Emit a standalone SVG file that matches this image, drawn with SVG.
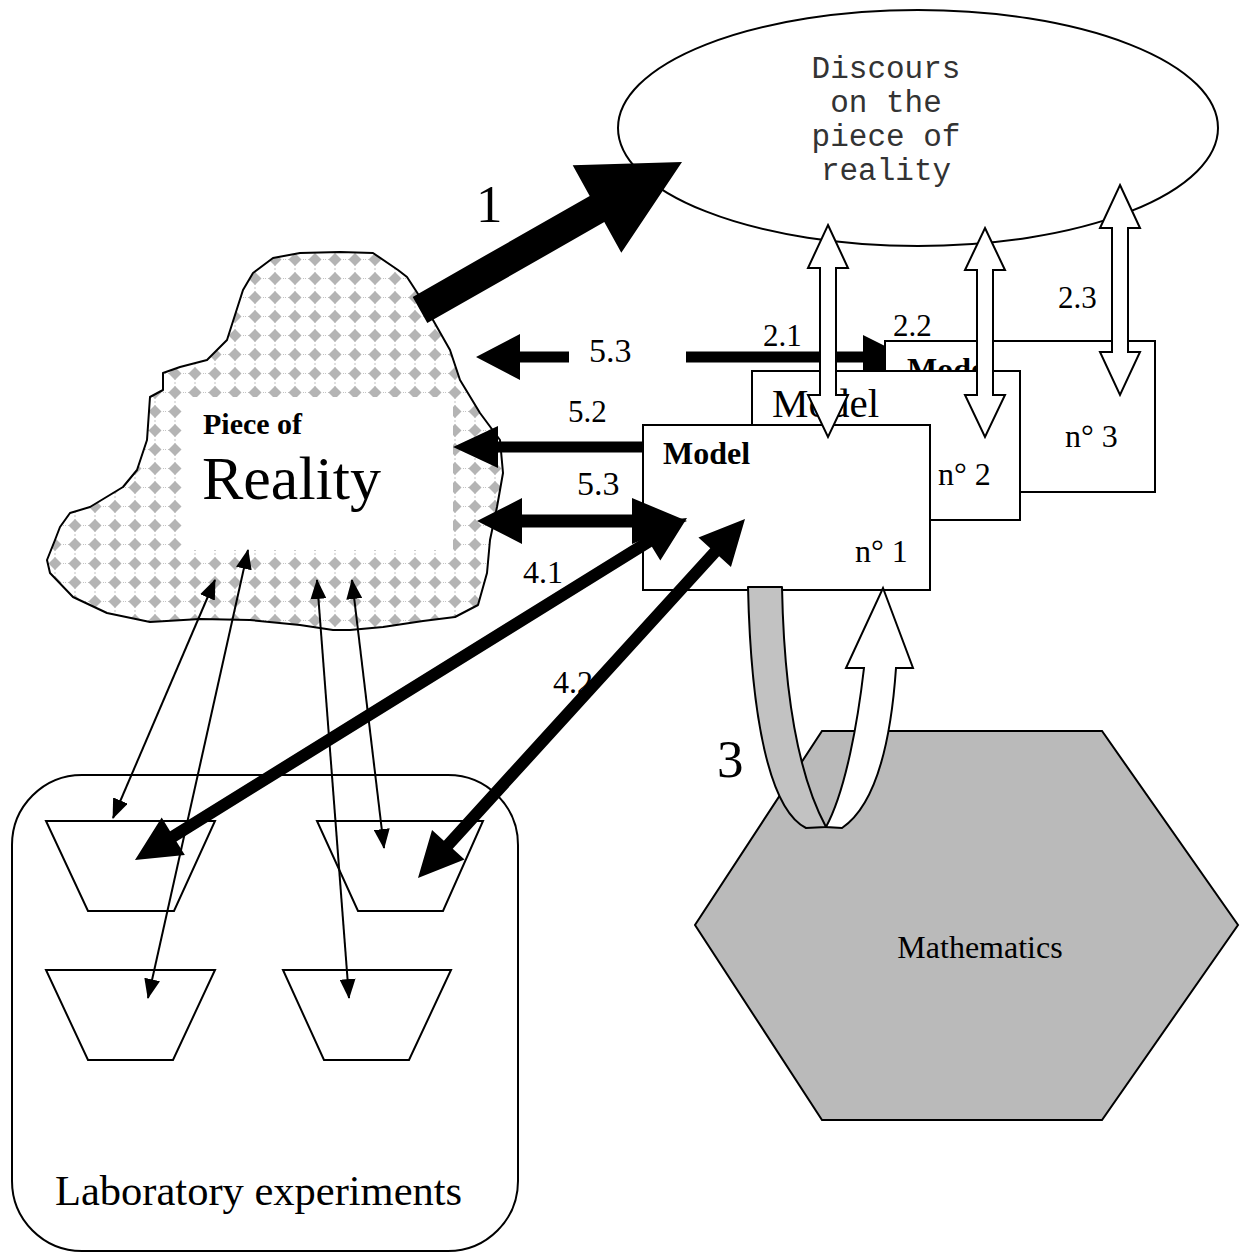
<svg xmlns="http://www.w3.org/2000/svg" width="1241" height="1254" viewBox="0 0 1241 1254">
  <style>
    .ln { fill: none; stroke: #000; stroke-width: 2; }
    .box { fill: #fff; stroke: #000; stroke-width: 2; }
    .blk { fill: #000; stroke: none; }
    .hollow { fill: #fff; stroke: #000; stroke-width: 2; stroke-linejoin: miter; }
    .thin { fill: none; stroke: #000; stroke-width: 2; marker-start: url(#tip); marker-end: url(#tip); }
    .serif { font-family: "Liberation Serif", "Times New Roman", serif; fill: #000; }
    .mono { font-family: "Liberation Mono", "Courier New", monospace; fill: #333; font-size: 31px; text-anchor: middle; }
    .bold { font-weight: bold; }
  </style>
  <defs>
    <pattern id="dots" width="20" height="19" patternUnits="userSpaceOnUse" x="5" y="3">
      <rect width="20" height="19" fill="#fff"/>
      <path d="M0,9.5H20M10,0V19" stroke="#c4c4c4" stroke-width="1" stroke-dasharray="1 2"/>
      <path d="M10,3L16.5,9.5L10,16L3.5,9.5Z" fill="#b4b4b4"/>
    </pattern>
    <marker id="tip" viewBox="0 0 20 16" refX="19" refY="8" markerWidth="20" markerHeight="16" markerUnits="userSpaceOnUse" orient="auto-start-reverse">
      <path d="M0,0 L20,8 L0,16 Z" fill="#000"/>
    </marker>
  </defs>

  <rect width="1241" height="1254" fill="#fff"/>

  <!-- discourse ellipse -->
  <g id="discours">
    <ellipse class="box" cx="918" cy="128" rx="300" ry="118"/>
    <text class="mono" x="886" y="78">Discours</text>
    <text class="mono" x="886" y="112">on the</text>
    <text class="mono" x="886" y="146">piece of</text>
    <text class="mono" x="886" y="180">reality</text>
  </g>

  <!-- piece of reality cloud -->
  <g id="reality">
    <path d="M243,290 L253,273 L273,258 L300,253 L340,252 L373,253 L398,270 L407,277 L420,297 L433,320 L450,350 L460,380 L480,413 L500,440 L503,473 L497,507 L490,540 L487,573 L478,605 L455,617 L423,621 L383,627 L350,630 L333,630 L300,625 L250,620 L200,619 L150,622 L107,613 L73,597 L50,573 L47,560 L55,540 L60,527 L70,513 L90,507 L123,487 L137,470 L147,440 L150,397 L163,390 L163,373 L180,367 L207,360 L227,340 Z" fill="url(#dots)" stroke="#000" stroke-width="2" stroke-linejoin="round"/>
    <rect x="183" y="397" width="270" height="153" fill="#fff"/>
    <text class="serif bold" x="203" y="434" font-size="30">Piece of</text>
    <text class="serif" x="202" y="499" font-size="62">Reality</text>
  </g>

  <!-- laboratory experiments -->
  <g id="lab">
    <rect class="ln" x="12" y="775" width="506" height="476" rx="70" ry="70"/>
    <polygon class="box" points="46,821 215,821 174,911 88,911"/>
    <polygon class="box" points="317,821 483,821 443,911 358,911"/>
    <polygon class="box" points="46,970 215,970 173,1060 88,1060"/>
    <polygon class="box" points="283,970 451,970 409,1060 324,1060"/>
    <text class="serif" x="55" y="1205" font-size="42.5">Laboratory experiments</text>
  </g>

  <!-- mathematics hexagon -->
  <g id="mathematics">
    <polygon points="822,731 1102,731 1238,925 1102,1120 822,1120 695,925" fill="#bababa" stroke="#000" stroke-width="2"/>
    <text class="serif" x="980" y="958" font-size="32" text-anchor="middle" fill="#222">Mathematics</text>
  </g>

  <!-- model stack -->
  <g id="model3">
    <rect class="box" x="885" y="341" width="270" height="151"/>
    <text class="serif bold" x="907" y="380" font-size="32">Model</text>
    <text class="serif" x="1065" y="447" font-size="32">n° 3</text>
  </g>
  <g id="model2">
    <rect class="box" x="752" y="371" width="268" height="149"/>
    <text class="serif" x="772" y="417" font-size="41">Model</text>
    <text class="serif" x="938" y="485" font-size="32">n° 2</text>
  </g>
  <g id="model1">
    <rect class="box" x="643" y="425" width="287" height="165"/>
    <text class="serif bold" x="663" y="464" font-size="32">Model</text>
    <text class="serif" x="855" y="562" font-size="32">n° 1</text>
  </g>

  <!-- connectors -->
  <g id="connectors">
    <!-- 1: reality to discourse -->
    <polygon class="blk" points="412.7,296.9 589.7,195.9 572.7,165.3 682,162 621.3,252.7 604.3,222.1 427.3,323.1"/>

    <!-- 5.3 (upper), split around its label -->
    <polygon class="blk" points="476,357 520,334 520,351.5 569,351.5 569,362.5 520,362.5 520,380"/>
    <polygon class="blk" points="686,351.5 863,351.5 863,335 885,346 885,370 863,370 863,362.5 686,362.5"/>

    <!-- 5.2 -->
    <polygon class="blk" points="453,447 498,426 498,441.5 643,441.5 643,452.5 498,452.5 498,468"/>

    <!-- 5.3 (lower, two-way) -->
    <polygon class="blk" points="477,521 522,498 522,514.5 632,514.5 632,498 687,521 632,544 632,527.5 522,527.5 522,544"/>

    <!-- 4.1 and 4.2 -->
    <polygon class="blk" points="135,860 184.86,854.99 176.43,841.38 651.89,546.82 660.32,560.43 687,518 637.14,523.01 645.57,536.62 170.11,831.18 161.68,817.57"/>
    <polygon class="blk" points="418,878 464.56,859.54 452.74,848.77 719.14,556.31 730.96,567.08 745,519 698.44,537.46 710.26,548.23 443.86,840.69 432.04,829.92"/>

    <!-- reality to laboratory, thin two-way -->
    <line class="thin" x1="215" y1="580" x2="113" y2="818"/>
    <line class="thin" x1="248" y1="550" x2="148" y2="998"/>
    <line class="thin" x1="317" y1="580" x2="349" y2="998"/>
    <line class="thin" x1="352" y1="580" x2="384" y2="848"/>

    <!-- 2.1, 2.2, 2.3: hollow two-way arrows -->
    <polygon class="hollow" points="828,225 848,268 836,268 836,395 848,395 828,437 808,395 820,395 820,268 808,268"/>
    <polygon class="hollow" points="985,228 1005,270 993,270 993,395 1005,395 985,437 965,395 977,395 977,270 965,270"/>
    <polygon class="hollow" points="1120,185 1140,228 1128,228 1128,352 1140,352 1120,395 1100,352 1112,352 1112,228 1100,228"/>

    <!-- 3: ribbon from model to mathematics and back -->
    <path d="M748,587 L782,587 C784,690 798,775 826,827 L806,828 C770,810 751,720 748,587 Z" fill="#c2c2c2" stroke="#000" stroke-width="2" stroke-linejoin="round"/>
    <path d="M826,827 C846,790 858,720 864,668 L846,668 L883,588 L913,668 L896,668 C891,740 876,805 842,828 Z" fill="#fff" stroke="#000" stroke-width="2" stroke-linejoin="miter"/>

    <!-- labels -->
    <text class="serif" x="476" y="222" font-size="53">1</text>
    <text class="serif" x="589" y="362" font-size="34">5.3</text>
    <text class="serif" x="568" y="422" font-size="31">5.2</text>
    <text class="serif" x="577" y="495" font-size="34">5.3</text>
    <text class="serif" x="523" y="583" font-size="32">4.1</text>
    <text class="serif" x="553" y="693" font-size="32">4.2</text>
    <text class="serif" x="763" y="346" font-size="31">2.1</text>
    <text class="serif" x="893" y="336" font-size="31">2.2</text>
    <text class="serif" x="1058" y="308" font-size="31">2.3</text>
    <text class="serif" x="717" y="777" font-size="53">3</text>
  </g>
</svg>
